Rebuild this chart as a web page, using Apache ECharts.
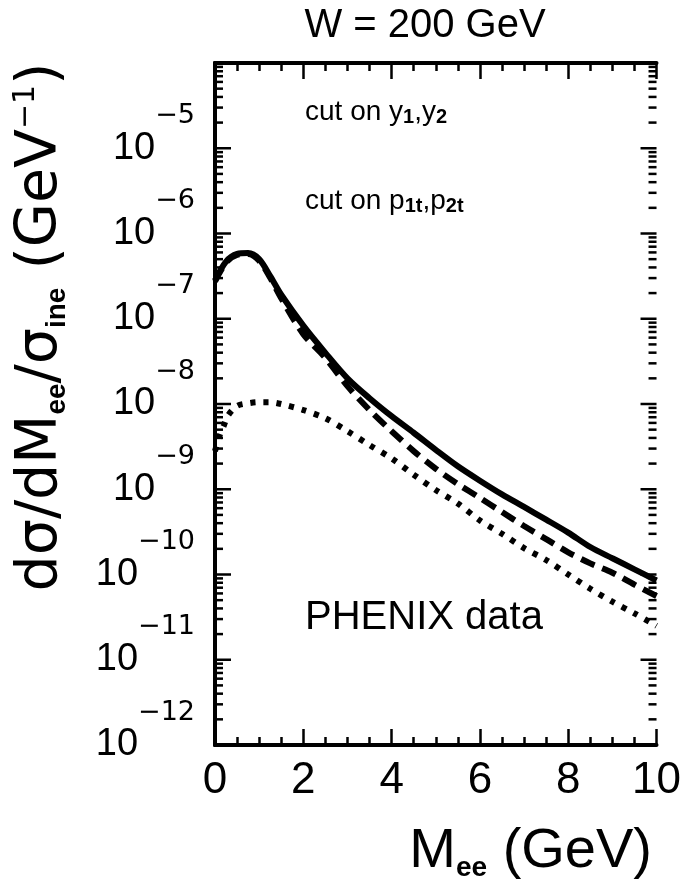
<!DOCTYPE html>
<html style="height: 100%">

<head>
  <meta charset="utf-8">
</head>

<body style="height: 100%; margin: 0; background: #fff">
  <div id="container" style="width: 684px; height: 891px"></div>
  <script type="text/javascript" src="https://cdn.jsdelivr.net/npm/echarts@6/dist/echarts.min.js"></script>
  <script type="text/javascript">
  var dom = document.getElementById("container");
  var myChart = echarts.init(dom);

  // M_ee (GeV) for the solid and dashed curves
  var mee = [0, 0.25, 0.5, 0.75, 1, 1.25, 1.5, 2, 2.5, 3, 3.5, 4, 4.5, 5, 5.5, 6, 6.5, 7, 7.5, 8, 8.5, 9, 9.5, 10];

  // solid
  var solid = [2.82e-7, 4.68e-7, 5.75e-7, 5.89e-7, 5.01e-7, 3.16e-7, 1.91e-7, 8.3e-8, 3.98e-8, 2.0e-8, 1.17e-8, 7.2e-9,
    4.6e-9, 2.9e-9, 1.86e-9, 1.26e-9, 8.7e-10, 6.2e-10, 4.4e-10, 3.1e-10, 2.1e-10, 1.55e-10, 1.15e-10, 8.5e-11];
  // dashed
  var dashed = [2.75e-7, 4.57e-7, 5.62e-7, 5.75e-7, 4.79e-7, 3.02e-7, 1.74e-7, 6.6e-8, 3.47e-8, 1.62e-8, 8.5e-9, 4.8e-9,
    2.8e-9, 1.74e-9, 1.15e-9, 7.9e-10, 5.4e-10, 3.7e-10, 2.6e-10, 1.82e-10, 1.35e-10, 1.05e-10, 7.6e-11, 5.6e-11];
  // dotted
  var dottedMee = [0, 0.1, 0.2, 0.3, 0.5, 0.75, 1, 1.25, 1.5, 2, 2.5, 3, 3.5, 4, 4.5, 5, 5.5, 6, 6.5, 7, 7.5, 8, 8.5, 9, 9.5, 10];
  var dotted = [2.8e-9, 4.2e-9, 5.6e-9, 7.4e-9, 9.5e-9, 1.02e-8, 1.05e-8, 1.05e-8, 1.0e-8, 8.5e-9, 6.8e-9, 4.8e-9, 3.3e-9,
    2.3e-9, 1.48e-9, 9.8e-10, 6.8e-10, 4.3e-10, 3.0e-10, 2.04e-10, 1.48e-10, 1.0e-10, 6.8e-11, 4.8e-11, 3.5e-11, 2.5e-11];

  var yMin = 1e-12, yMax = 1e-4;
  var xMin = 0, xMax = 10;

  function pairs(xs, ys) {
    return xs.map(function(x, i) { return [x, ys[i]]; });
  }

  // y ticks for the frame: decades (long) and 2..9 (short), drawn on both sides
  var yTickVals = [];
  for (var e = -12; e <= -4; e++) {
    yTickVals.push([0, Math.pow(10, e), 16]);
    if (e < -4) {
      for (var k = 2; k <= 9; k++) yTickVals.push([0, k * Math.pow(10, e), 8]);
    }
  }

  var FONT = 'Liberation Sans, Arial, sans-serif';
  var WIDE = 'DejaVu Sans, sans-serif';

  function yLabel(v) {
    var ex = Math.round(Math.log10(v));
    if (ex === -4) return '';
    return '{b|10}{e|\u2212' + Math.abs(ex) + '}';
  }

  function makeX(pos, showLabel) {
    return {
      type: 'value', min: xMin, max: xMax, interval: 2, position: pos,
      axisLine: { lineStyle: { color: '#000', width: 4 } },
      axisTick: { show: true, inside: true, length: 16, lineStyle: { color: '#000', width: 2.5 } },
      minorTick: { show: true, splitNumber: 4, length: 8, lineStyle: { color: '#000', width: 2.5 } },
      splitLine: { show: false },
      axisLabel: { show: showLabel, fontFamily: FONT, fontSize: 44, color: '#000', margin: 14 }
    };
  }
  function makeY(pos, showLabel) {
    return {
      type: 'log', min: yMin, max: yMax, logBase: 10, interval: 1, position: pos,
      axisLine: { lineStyle: { color: '#000', width: 4 } },
      axisTick: { show: false },
      splitLine: { show: false },
      axisLabel: {
        show: showLabel, margin: 20, color: '#000', formatter: yLabel,
        rich: {
          b: { fontFamily: FONT, fontSize: 38, lineHeight: 92, verticalAlign: 'middle', color: '#000' },
          e: { fontFamily: WIDE, fontSize: 27, lineHeight: 30, verticalAlign: 'top', color: '#000' }
        }
      }
    };
  }

  var subCut = { fontFamily: FONT, fontSize: 20, fontWeight: 'bold', lineHeight: 20, verticalAlign: 'bottom' };
  var mainCut = { fontFamily: FONT, fontSize: 28, lineHeight: 30, verticalAlign: 'middle' };

  var option = {
    animation: false,
    backgroundColor: '#fff',
    grid: { left: 215, right: 27, top: 63, bottom: 146 },
    xAxis: [makeX('bottom', true), makeX('top', false)],
    yAxis: [makeY('left', true), makeY('right', false)],
    graphic: [
      { type: 'text', x: 425, y: 26, style: { text: 'W = 200 GeV', font: '40px ' + FONT, fill: '#000', align: 'center', verticalAlign: 'middle' } },
      { type: 'text', x: 652, y: 852, style: {
          text: '{m|M}{s|ee}{m| (GeV)}', align: 'right', verticalAlign: 'middle', fill: '#000',
          rich: {
            m: { fontFamily: FONT, fontSize: 56, lineHeight: 60, verticalAlign: 'middle' },
            s: { fontFamily: FONT, fontSize: 28, fontWeight: 'bold', lineHeight: 40, verticalAlign: 'bottom' }
          } } },
      { type: 'text', x: 41, y: 327, rotation: Math.PI / 2, style: {
          text: '{m|d\u03c3/dM}{s|ee}{m|/\u03c3}{s|ine}{m| (GeV}{p|\u22121}{m|)}', align: 'center', verticalAlign: 'middle', fill: '#000',
          rich: {
            m: { fontFamily: WIDE, fontSize: 57, lineHeight: 60, verticalAlign: 'middle' },
            s: { fontFamily: FONT, fontSize: 28, fontWeight: 'bold', lineHeight: 42, verticalAlign: 'bottom' },
            p: { fontFamily: WIDE, fontSize: 30, lineHeight: 36, verticalAlign: 'top' }
          } } },
      { type: 'text', x: 305, y: 112, style: {
          text: '{m|cut on y}{s|1}{m|,y}{s|2}', align: 'left', verticalAlign: 'middle', fill: '#000',
          rich: { m: mainCut, s: subCut } } },
      { type: 'text', x: 305, y: 201, style: {
          text: '{m|cut on p}{s|1t}{m|,p}{s|2t}', align: 'left', verticalAlign: 'middle', fill: '#000',
          rich: { m: mainCut, s: subCut } } },
      { type: 'text', x: 305, y: 618, style: { text: 'PHENIX data', font: '40px ' + FONT, fill: '#000', align: 'left', verticalAlign: 'middle' } }
    ],
    series: [
      {
        type: 'custom', silent: true, xAxisIndex: 0, yAxisIndex: 0, clip: false,
        data: yTickVals,
        renderItem: function(params, api) {
          var y = api.coord([0, api.value(1)])[1];
          var len = api.value(2);
          var cs = params.coordSys;
          var st = { stroke: '#000', lineWidth: 2.5 };
          return {
            type: 'group',
            children: [
              { type: 'line', shape: { x1: cs.x, y1: y, x2: cs.x + len, y2: y }, style: st },
              { type: 'line', shape: { x1: cs.x + cs.width - len, y1: y, x2: cs.x + cs.width, y2: y }, style: st }
            ]
          };
        }
      },
      {
        name: 'solid', type: 'line', data: pairs(mee, solid), showSymbol: false, smooth: 0.3,
        lineStyle: { color: '#000', width: 6 }
      },
      {
        name: 'dashed', type: 'line', data: pairs(mee, dashed), showSymbol: false, smooth: 0.3,
        lineStyle: { color: '#000', width: 6, type: [15, 8] }
      },
      {
        name: 'dotted', type: 'line', data: pairs(dottedMee, dotted), showSymbol: false, smooth: 0.3,
        lineStyle: { color: '#000', width: 6, type: [5, 8] }
      }
    ]
  };

  myChart.setOption(option);
  </script>
</body>

</html>
